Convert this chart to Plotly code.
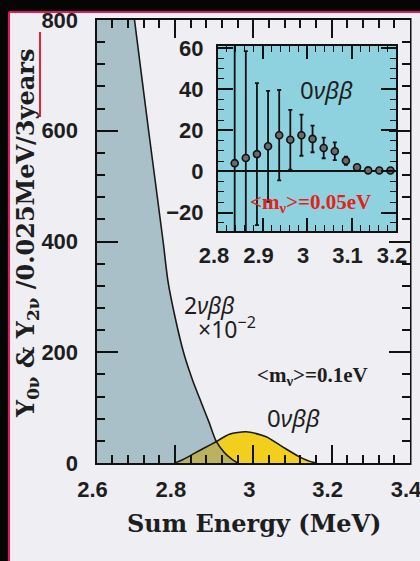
import numpy as np
import plotly.graph_objects as go

W, H = 420, 561


def px(x):
    return x / W


def py(y):
    return 1 - y / H


# ---------------- data ----------------
# 2nu beta-beta spectrum (x 10^-2), counts / 0.025 MeV / 3 years
energy_2nu = [2.60, 2.65, 2.697, 2.733, 2.770, 2.782, 2.80, 2.822, 2.845,
              2.868, 2.888, 2.905, 2.925, 2.945, 2.96]
counts_2nu = [1330, 1060, 800, 600, 400, 330, 265, 200, 150,
              108, 72, 40, 20, 7, 0]

# 0nu beta-beta peak for <m_nu> = 0.1 eV
energy_0nu = [2.80, 2.82, 2.846, 2.875, 2.905, 2.939, 2.982, 3.033, 3.075,
              3.118, 3.14, 3.16]
counts_0nu = [0, 6, 16, 27, 38.5, 52, 56.5, 47.5, 29, 11, 4, 0]

# inset: 0nu beta-beta for <m_nu> = 0.05 eV
inset_energy = [2.8375, 2.8625, 2.8875, 2.9125, 2.9375, 2.9625, 2.9875,
                3.0125, 3.0375, 3.0625, 3.0875, 3.1125, 3.1375, 3.1625, 3.1875]
inset_counts = [4.0, 6.5, 8.4, 12.2, 17.6, 15.4, 17.6, 15.8, 11.4, 9.8,
                5.2, 2.0, 0.5, 0.4, 0.4]
inset_error = [70, 52, 34.5, 27, 22, 14.5, 10, 6.5, 5, 4.3, 2, 1, 0.8, 0.6, 0.6]

main_x_range = [2.6, 3.4]
main_y_range = [0, 800]
inset_x_range = [2.8, 3.2]
inset_y_range = [-29, 61]

# ---------------- styles ----------------
BLUE = "#a9c0c9"
YELLOW = "#f1cf1c"
OLIVE = "#bbb25e"
CYAN = "#8fd2df"
PANEL = "#eeeef3"
DARK = "#050505"
TICKFONT = dict(family="Liberation Sans", size=22, weight="bold", color="#1e1e1e")

# overlap of both spectra (drawn olive)
grid = np.linspace(energy_0nu[0], energy_2nu[-1], 80)
overlap = np.minimum(np.interp(grid, energy_2nu, counts_2nu),
                     np.interp(grid, energy_0nu, counts_0nu))

fig = go.Figure()
spl = dict(shape="spline", smoothing=0.7)
fig.add_trace(go.Scatter(x=energy_2nu, y=counts_2nu, mode="lines", fill="tozeroy",
                         fillcolor=BLUE, line=dict(width=0, **spl), hoverinfo="skip"))
fig.add_trace(go.Scatter(x=energy_0nu, y=counts_0nu, mode="lines", fill="tozeroy",
                         fillcolor=YELLOW, line=dict(width=0, **spl), hoverinfo="skip"))
fig.add_trace(go.Scatter(x=grid, y=overlap, mode="lines", fill="tozeroy",
                         fillcolor=OLIVE, line=dict(width=0), hoverinfo="skip"))
fig.add_trace(go.Scatter(x=energy_2nu, y=counts_2nu, mode="lines",
                         line=dict(color="#1a1a1a", width=1.6, **spl)))
fig.add_trace(go.Scatter(x=energy_0nu, y=counts_0nu, mode="lines",
                         line=dict(color="#1a1a1a", width=1.6, **spl)))

fig.add_trace(go.Scatter(
    x=inset_energy, y=inset_counts, mode="markers", xaxis="x2", yaxis="y2",
    marker=dict(size=7, color="#6a6a6a", line=dict(color="#111", width=1.6)),
    error_y=dict(type="data", array=inset_error, visible=True, color="#111",
                 thickness=1.8, width=2)))

axis_common = dict(showgrid=False, zeroline=False, showline=True, linecolor="#111",
                   linewidth=2, mirror="allticks", ticks="inside", tickcolor="#111",
                   tickwidth=1.5, tickfont=TICKFONT, automargin=False,
                   ticklabeloverflow="allow")

fig.update_layout(
    width=W, height=H, margin=dict(l=0, r=0, t=0, b=0, pad=0, autoexpand=False),
    paper_bgcolor=PANEL, plot_bgcolor="rgba(0,0,0,0)", showlegend=False,
    xaxis=dict(domain=[px(96.5), px(410)], range=main_x_range, anchor="y",
               tick0=2.6, dtick=0.2, ticklen=18, ticklabelstandoff=6,
               ticklabelshift=-4,
               minor=dict(dtick=0.04, tick0=2.6, ticklen=8, ticks="inside",
                          tickcolor="#111", tickwidth=1.5),
               **axis_common),
    yaxis=dict(domain=[py(463), py(20)], range=main_y_range, anchor="x",
               tick0=0, dtick=200, ticklen=21, ticklabelstandoff=12,
               minor=dict(dtick=40, tick0=0, ticklen=8, ticks="inside",
                          tickcolor="#111", tickwidth=1.5),
               **axis_common),
    xaxis2=dict(domain=[px(218), px(396)], range=inset_x_range, anchor="y2",
                tick0=2.8, dtick=0.1, ticklen=13, ticklabelstandoff=4,
                ticklabelshift=-4,
                minor=dict(dtick=0.02, tick0=2.8, ticklen=6, ticks="inside",
                           tickcolor="#111", tickwidth=1.3),
                **axis_common),
    yaxis2=dict(domain=[py(231), py(46)], range=inset_y_range, anchor="x2",
                tick0=0, dtick=20, ticklen=15, ticklabelstandoff=8,
                minor=dict(dtick=5, tick0=0, ticklen=6, ticks="inside",
                           tickcolor="#111", tickwidth=1.3),
                **axis_common),
)
fig.update_layout(yaxis2=dict(zeroline=True, zerolinecolor="#111", zerolinewidth=1.6))

# dark surround (left and top strips) with the pink frame edge
fig.add_shape(type="rect", xref="paper", yref="paper", x0=0, x1=px(9),
              y0=0, y1=1, fillcolor=DARK, line=dict(width=0), layer="below")
fig.add_shape(type="rect", xref="paper", yref="paper", x0=0, x1=1,
              y0=py(12), y1=1, fillcolor=DARK, line=dict(width=0), layer="below")
fig.add_shape(type="line", xref="paper", yref="paper", x0=px(9), x1=px(9),
              y0=0, y1=py(12), line=dict(color="#e3175d", width=2), layer="below")
fig.add_shape(type="line", xref="paper", yref="paper", x0=px(9), x1=1,
              y0=py(12), y1=py(12), line=dict(color="#e3175d", width=2), layer="below")
fig.add_shape(type="rect", xref="x2 domain", yref="y2 domain", x0=0, x1=1, y0=0, y1=1,
              fillcolor=CYAN, line=dict(width=0), layer="below")
fig.add_shape(type="line", xref="paper", yref="paper", x0=px(40), x1=px(40),
              y0=py(32), y1=py(117), line=dict(color="#e8203a", width=2))

# light panel strip to the right of the main frame (leaves the "3.4" label row free)
fig.add_shape(type="rect", xref="paper", yref="paper", x0=px(411.5), x1=1,
              y0=py(477), y1=py(13), fillcolor=PANEL, line=dict(width=0), layer="above")
fig.add_shape(type="rect", xref="paper", yref="paper", x0=px(411.5), x1=1,
              y0=0, y1=py(499), fillcolor=PANEL, line=dict(width=0), layer="above")

SERIF = "DejaVu Serif"
GREEK = "Noto Sans"
ann = [
    dict(text="Y<sub>0ν</sub> & Y<sub>2ν</sub> /0.025MeV/3years", x=px(27), y=py(234),
         textangle=-90, font=dict(family=SERIF, size=24, weight="bold", color="#1e1e1e")),
    dict(text="Sum Energy (MeV)", x=px(254), y=py(523),
         font=dict(family=SERIF, size=24, weight="bold", color="#1e1e1e")),
    dict(text="2<i>νββ</i>", x=px(182), y=py(305), xanchor="left",
         font=dict(family=GREEK, size=23, color="#1e1e1e")),
    dict(text="×10<sup>−2</sup>", x=px(196), y=py(328), xanchor="left",
         font=dict(family=GREEK, size=23, color="#1e1e1e")),
    dict(text="<m<sub>ν</sub>>=0.1eV", x=px(255), y=py(376), xanchor="left",
         font=dict(family="Liberation Serif", size=21, weight="bold", color="#1e1e1e")),
    dict(text="0<i>νββ</i>", x=px(265), y=py(417), xanchor="left",
         font=dict(family=GREEK, size=24, color="#1e1e1e")),
    dict(text="0<i>νββ</i>", x=px(298), y=py(90), xanchor="left",
         font=dict(family=GREEK, size=24, color="#1e1e1e")),
    dict(text="<m<sub>ν</sub>>=0.05eV", x=px(248), y=py(203), xanchor="left",
         font=dict(family="Liberation Serif", size=21, weight="bold", color="#e2231a")),
]
for a in ann:
    a.setdefault("xanchor", "center")
    fig.add_annotation(xref="paper", yref="paper", showarrow=False, yanchor="middle", **a)

page_fix = ("document.documentElement.style.margin='0';"
            "document.documentElement.style.overflow='hidden';"
            "document.documentElement.style.background='#eeeef3';"
            "document.body.style.margin='0';"
            "document.body.style.padding='0';"
            "document.body.style.overflow='hidden';"
            "document.body.style.background='#eeeef3';")
fig.write_html("out.html", post_script=page_fix,
               config={"displayModeBar": False, "responsive": False})
